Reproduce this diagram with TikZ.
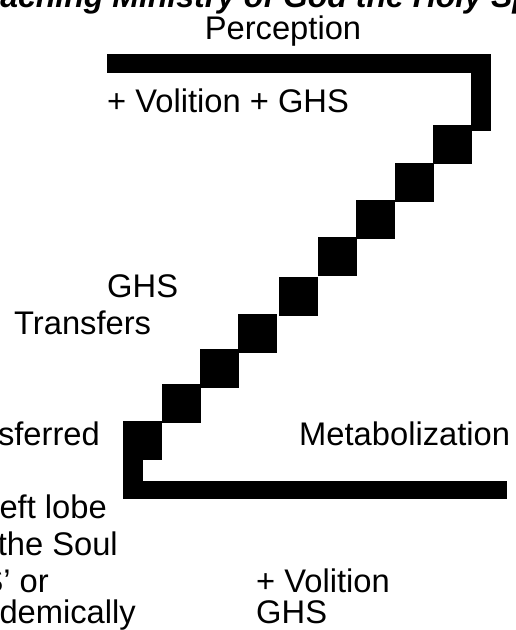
\documentclass[tikz,border=0pt]{standalone}
\usepackage{fontspec}
\setmainfont{Liberation Sans}
\begin{document}
\begin{tikzpicture}[x=1pt,y=-1pt,
  lbl/.style={inner sep=0pt,font=\fontsize{32.7}{39}\selectfont},
  ttl/.style={inner sep=0pt,font=\fontsize{32}{38}\selectfont\bfseries\itshape},
  blk/.style={fill=black,draw=none}]
\useasboundingbox (0,0) rectangle (515,630);
\clip (0,0) rectangle (515,630);
% title (cut off by the frame)
\node[ttl,anchor=base west] (title) at (-36,7) {Teaching Ministry of God the Holy Spirit};
% top bar and right drop
\fill[blk] (107,54) rectangle (491,73);
\fill[blk] (471,54) rectangle (491,131);
% staircase
\foreach \x/\y in {433/125,395/163,356/200,318/237,279/277,238/314,200/349,162/384,123/421}
  \fill[blk] (\x,\y) rectangle ++(39,39);
% bottom drop and bar
\fill[blk] (123,421) rectangle (143,499);
\fill[blk] (123,481) rectangle (507,499);
% labels
\node[lbl,anchor=base] (perc) at (283,39) {Perception};
\node[lbl,anchor=base west] (vgh) at (107,112) {+ Volition + GHS};
\node[lbl,anchor=base west] (ghs1) at (107,297) {GHS};
\node[lbl,anchor=base west] (trans) at (14,334) {Transfers};
\node[lbl,anchor=base east] (sfer) at (100,445) {sferred};
\node[lbl,anchor=base west] (meta) at (299,445) {Metabolization};
\node[lbl,anchor=base east] (lobe) at (107,518) {eft lobe};
\node[lbl,anchor=base east] (soul) at (118,555) {the Soul};
\node[lbl,anchor=base east] (or) at (49,592) {S\char"27{} or};
\node[lbl,anchor=base east] (acad) at (136,623) {demically};
\node[lbl,anchor=base west] (vol) at (256,592) {+ Volition};
\node[lbl,anchor=base west] (ghs2) at (256,623) {GHS};
\end{tikzpicture}
\end{document}
